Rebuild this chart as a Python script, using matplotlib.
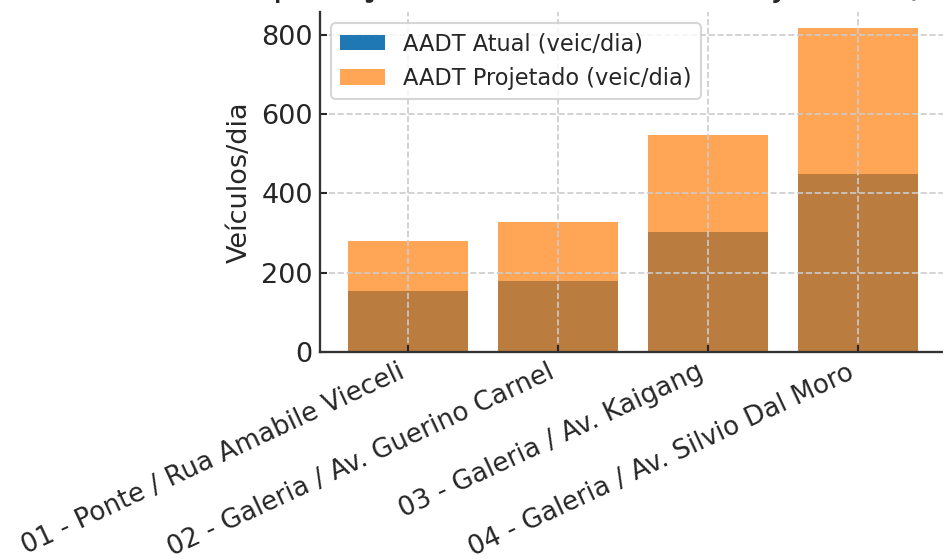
import matplotlib
matplotlib.use('Agg')
import matplotlib.pyplot as plt
import numpy as np

# trechos e volumes (veic/dia)
trechos = [
    '01 - Ponte / Rua Amabile Vieceli',
    '02 - Galeria / Av. Guerino Carnel',
    '03 - Galeria / Av. Kaigang',
    '04 - Galeria / Av. Silvio Dal Moro',
]
aadt_atual = [155, 180, 302, 450]
aadt_projetado = [281, 327, 548, 817]

plt.rcParams['font.family'] = 'DejaVu Sans'
plt.rcParams['text.color'] = '#262626'
plt.rcParams['axes.labelcolor'] = '#262626'
plt.rcParams['xtick.color'] = '#262626'
plt.rcParams['ytick.color'] = '#262626'

fig = plt.figure(figsize=(943 / 150, 560 / 150), dpi=150)
ax = fig.add_axes([320 / 943, 1 - 352 / 560, 626 / 943, 340 / 560])

x = np.arange(len(trechos))
ax.bar(x, aadt_atual, width=0.8, color='#1f77b4', label='AADT Atual (veic/dia)')
ax.bar(x, aadt_projetado, width=0.8, color='#ff7f0e', alpha=0.7,
       label='AADT Projetado (veic/dia)')

ax.set_title('Comparação AADT Atual vs Projetado (veic/dia)', fontsize=18, pad=8)
ax.set_ylabel('Veículos/dia', fontsize=13)
ax.set_xticks(x)
ax.set_xticklabels(trechos, rotation=25, ha='right', fontsize=12.6)
ax.set_yticks([0, 200, 400, 600, 800])
ax.tick_params(axis='y', direction='in', length=3.5, width=1, labelsize=13)
ax.tick_params(axis='x', direction='in', length=3.5, width=1)

ax.grid(True, linestyle='--', color='#cccccc', linewidth=0.8)
for side in ['top', 'right']:
    ax.spines[side].set_visible(False)
for side in ['left', 'bottom']:
    ax.spines[side].set_color('#333333')
    ax.spines[side].set_linewidth(1.1)

ax.legend(loc='upper left', fontsize=10.8, edgecolor='#cccccc')

fig.savefig('out.png', dpi=150)
